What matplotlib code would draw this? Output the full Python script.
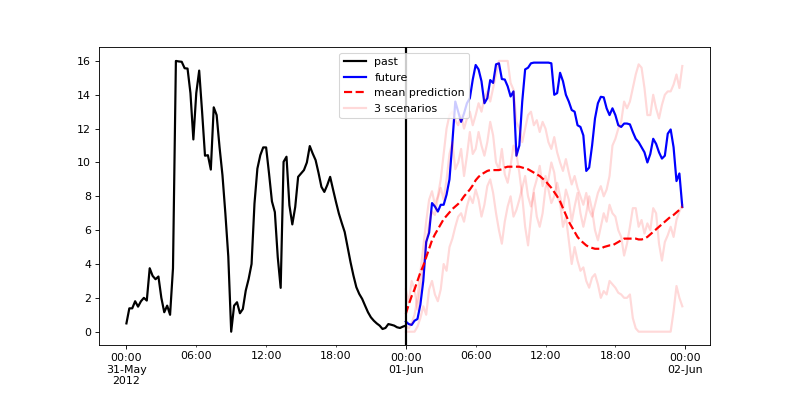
import numpy as np
import pandas as pd
import matplotlib
matplotlib.use('Agg')
import matplotlib.pyplot as plt
import matplotlib.dates as mdates
from matplotlib.ticker import FuncFormatter

# datos (15 min)
past = [0.49, 1.38, 1.38, 1.8, 1.48, 1.8, 2.0, 1.84, 3.75, 3.3,
        3.1, 3.26, 2.0, 1.15, 1.54, 1.0, 3.75, 16.0, 15.97, 15.95,
        15.57, 15.55, 14.1, 11.36, 14.1, 15.43, 13.0, 10.4, 10.43, 9.58,
        13.26, 12.8, 10.9, 9.25, 6.98, 4.45, 0.0, 1.54, 1.74, 1.09,
        1.34, 2.43, 3.12, 4.0, 7.57, 9.64, 10.43, 10.89, 10.89, 9.35,
        7.7, 7.07, 4.4, 2.59, 10.04, 10.34, 7.47, 6.34, 7.37, 9.15,
        9.35, 9.55, 10.0, 10.97, 10.53, 10.14, 9.39, 8.56, 8.26, 8.66,
        9.15, 8.4, 7.67, 6.98, 6.42, 5.89, 5.0, 4.11, 3.32, 2.63,
        2.23, 1.94, 1.54, 1.15, 0.85, 0.65, 0.49, 0.36, 0.16, 0.22,
        0.45, 0.41, 0.36, 0.26, 0.22, 0.3, 0.36]

future = [0.6, 0.45, 0.4, 0.65, 0.75, 1.6, 3.0, 5.3, 5.85, 7.6, 7.4, 7.1,
          7.5, 7.5, 8.1, 9.0, 11.2, 13.6, 13.0, 12.4, 12.9, 13.5, 13.8, 14.9,
          15.76, 15.5, 14.8, 13.5, 13.8, 14.87, 14.7, 15.8, 15.86, 14.93, 14.9, 14.5,
          13.9, 14.2, 10.4, 11.0, 13.6, 15.5, 15.6, 15.86, 15.9, 15.9, 15.9, 15.9,
          15.9, 15.9, 15.86, 14.0, 14.1, 15.3, 14.8, 14.0, 13.6, 13.1, 13.0, 12.2,
          12.1, 11.6, 9.5, 9.7, 11.0, 12.6, 13.5, 13.88, 13.85, 13.2, 12.8, 13.2,
          12.8, 12.2, 12.1, 12.3, 12.3, 12.25, 11.8, 11.4, 11.2, 10.9, 10.6, 10.0,
          10.5, 11.4, 11.1, 10.6, 10.23, 10.4, 11.7, 11.95, 10.9, 8.9, 9.35, 7.37]

mean_pred = [1.05, 1.6, 2.1, 2.5, 3.0, 3.5, 3.9, 4.4, 4.9, 5.4, 5.75, 6.05,
             6.35, 6.65, 6.85, 7.05, 7.25, 7.4, 7.55, 7.75, 8.0, 8.2, 8.4, 8.65,
             8.95, 9.15, 9.3, 9.4, 9.5, 9.55, 9.55, 9.55, 9.55, 9.6, 9.7, 9.75,
             9.75, 9.75, 9.75, 9.75, 9.7, 9.65, 9.6, 9.5, 9.4, 9.3, 9.2, 9.05,
             8.9, 8.7, 8.5, 8.25, 8.0, 7.7, 7.3, 6.9, 6.5, 6.2, 5.9, 5.6,
             5.4, 5.25, 5.1, 5.0, 4.95, 4.9, 4.9, 4.9, 5.0, 5.05, 5.1, 5.1,
             5.2, 5.3, 5.4, 5.5, 5.5, 5.5, 5.5, 5.5, 5.45, 5.45, 5.5, 5.6,
             5.75, 5.9, 6.05, 6.2, 6.35, 6.5, 6.65, 6.8, 6.9, 7.05, 7.2, 7.37]

scen_1 = [0.3, 0.2, 0.5, 1.0, 2.0, 3.5, 5.0, 6.5, 7.8, 8.3, 7.5, 8.0,
          9.0, 10.5, 12.0, 12.8, 13.0, 12.5, 12.2, 12.8, 12.0, 12.6, 13.0, 12.2,
          12.8, 13.5, 13.0, 13.8, 14.2, 13.6, 14.4, 15.2, 16.0, 16.0, 16.0, 16.0,
          14.7, 14.3, 12.4, 12.0, 11.2, 12.0, 12.8, 13.0, 12.2, 12.5, 11.8, 12.4,
          12.0, 11.2, 10.8, 11.5, 10.6, 10.0, 9.5, 10.2, 9.4, 8.7, 9.2, 8.5,
          8.0, 7.5, 8.2, 7.2, 6.8, 7.5, 8.2, 8.6, 8.0, 8.4, 9.2, 11.0,
          11.4, 12.0, 12.4, 13.6, 13.2, 13.6, 14.4, 15.2, 15.8, 15.6, 14.4, 12.8,
          12.8, 14.0, 13.2, 12.6, 13.4, 14.0, 14.2, 14.2, 14.6, 15.2, 14.4, 15.7]

scen_2 = [2.5, 1.7, 3.0, 2.5, 1.3, 2.6, 3.8, 5.2, 6.4, 7.1, 6.9, 7.9,
          8.5, 7.8, 9.0, 10.5, 11.2, 9.6, 10.0, 10.8, 9.2, 10.4, 11.8, 10.5,
          10.8, 11.8, 11.0, 10.4, 11.2, 12.4, 11.6, 10.0, 9.6, 10.8, 9.3, 8.8,
          9.8, 11.0, 10.5, 9.4, 8.0, 6.2, 5.1, 6.8, 8.4, 9.0, 9.8, 8.6,
          9.2, 8.4, 7.6, 8.0, 8.8, 8.0, 7.2, 8.4, 7.8, 6.5, 7.4, 8.2,
          7.0, 6.2, 7.0, 8.0, 7.2, 6.0, 5.4, 6.2, 7.0, 6.5, 7.5, 7.0,
          6.8, 6.0, 5.6, 4.5, 5.2, 6.2, 7.3, 7.3, 6.2, 6.6, 5.8, 6.4,
          6.0, 7.3, 7.0, 5.2, 4.2, 5.3, 5.7, 6.2, 5.6, 6.6, 7.1, 7.5]

scen_3 = [0.0, 0.0, 0.0, 0.0, 0.3, 0.8, 1.5, 1.0, 2.5, 3.0, 2.2, 1.8,
          2.5, 4.0, 3.6, 5.0, 5.5, 6.2, 6.8, 7.0, 6.5, 7.4, 8.0, 7.6,
          8.4, 7.8, 6.8, 7.5, 8.6, 9.0, 8.2, 7.0, 6.0, 5.2, 6.5, 7.4,
          8.0, 6.8, 7.2, 7.8, 8.5, 9.2, 8.0, 7.4, 8.2, 6.8, 6.2, 7.0,
          8.5, 9.0, 10.0, 9.4, 8.0, 7.6, 6.2, 6.8, 5.4, 4.0, 5.0, 4.2,
          3.6, 3.8, 3.0, 2.6, 3.2, 3.4, 2.8, 2.0, 2.4, 2.2, 3.0, 2.8,
          2.6, 2.3, 2.2, 2.0, 2.0, 2.2, 0.8, 0.2, 0.0, 0.0, 0.0, 0.0,
          0.0, 0.0, 0.0, 0.0, 0.0, 0.0, 0.0, 0.0, 1.2, 2.7, 2.0, 1.5]

scenarios = [scen_1, scen_2, scen_3]

past_times = pd.date_range('2012-05-31 00:00', periods=len(past), freq='15min')
future_times = pd.date_range('2012-06-01 00:00', periods=len(future), freq='15min')

fig = plt.figure(figsize=(789 / 78.9, 395 / 78.9), dpi=78.9)
ax = fig.add_subplot(111)
fig.subplots_adjust(bottom=0.126)

ax.plot(past_times, past, color='k', lw=2, label='past')
ax.plot(future_times, future, color='b', lw=2, label='future')
ax.plot(future_times, mean_pred, color='r', ls='--', lw=2, label='mean prediction')
for k, sc in enumerate(scenarios):
    ax.plot(future_times, sc, color='r', lw=2, alpha=0.15,
            label='%d scenarios' % len(scenarios) if k == 0 else None)
ax.axvline(future_times[0], color='k', lw=2)


def major_fmt(x, pos):
    d = mdates.num2date(x)
    s = d.strftime('%H:%M\n%d-%b')
    if d.date() == past_times[0].date():
        s += '\n%d' % d.year
    return s


ax.xaxis.set_major_locator(mdates.DayLocator())
ax.xaxis.set_minor_locator(mdates.HourLocator(byhour=[6, 12, 18]))
ax.xaxis.set_major_formatter(FuncFormatter(major_fmt))
ax.xaxis.set_minor_formatter(mdates.DateFormatter('%H:%M'))

ax.legend(loc='upper center')
fig.savefig('out.png', dpi=78.9)
